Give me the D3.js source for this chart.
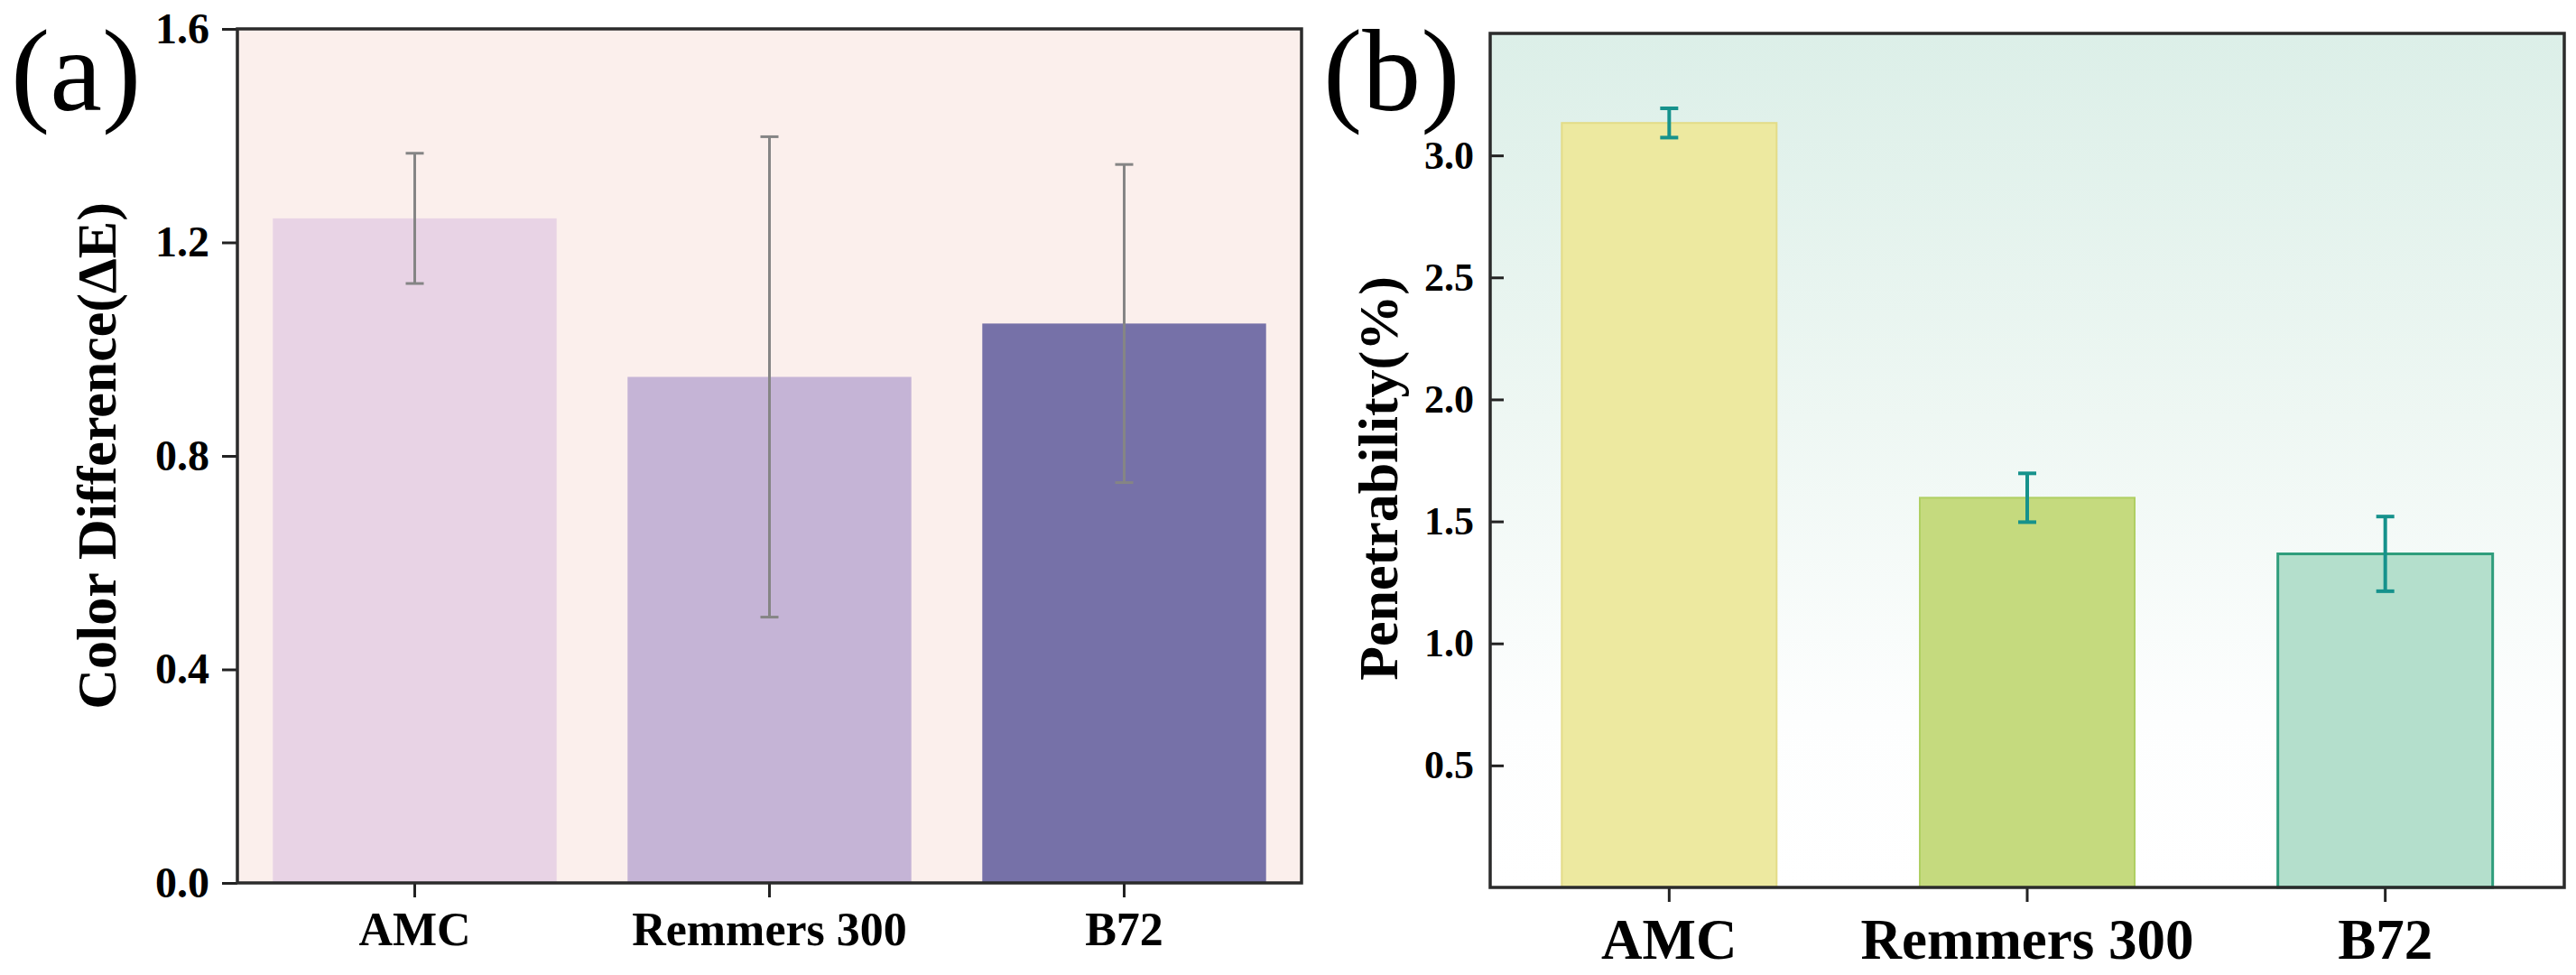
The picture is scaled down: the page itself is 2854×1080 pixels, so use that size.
<!DOCTYPE html>
<html lang="en">
<head>
    <meta charset="utf-8">
    <title>Color difference and penetrability</title>
    <script src="https://d3js.org/d3.v7.min.js"></script>
    <style>
        body { margin: 0; background: #fff; }
        text { font-family: "Liberation Serif", "Times New Roman", serif; }
    </style>
</head>
<body>
<svg id="chart"></svg>

<script>

    // data
    const materials = ["AMC", "Remmers 300", "B72"];

    const colorDiff = [1.245, 0.948, 1.048];
    const colorDiffErr = [0.122, 0.450, 0.298];
    const colorTicks = [0, 0.4, 0.8, 1.2, 1.6];

    const penetrability = [3.133, 1.597, 1.367];
    const penetrabilityErr = [0.060, 0.100, 0.153];
    const penTicks = [0.5, 1.0, 1.5, 2.0, 2.5, 3.0];

    let width = 2854,
        height = 1080;

    let svg = d3.select("#chart")
        .attr("width", width)
        .attr("height", height);

    let defs = svg.append("defs");
    let grad = defs.append("linearGradient")
        .attr("id", "bgB")
        .attr("x1", 0).attr("y1", 0)
        .attr("x2", 0).attr("y2", 1);
    grad.append("stop").attr("offset", "0%").attr("stop-color", "#dcefe8");
    grad.append("stop").attr("offset", "45%").attr("stop-color", "#eef7f3");
    grad.append("stop").attr("offset", "80%").attr("stop-color", "#fdfefe");
    grad.append("stop").attr("offset", "100%").attr("stop-color", "#ffffff");

    // ---------- panel (a) ----------
    let pa = {left: 263, right: 1442, top: 32, bottom: 978};

    let xA = d3.scaleBand()
        .domain(materials)
        .range([pa.left, pa.right])
        .paddingInner(0.2)
        .paddingOuter(0.1);

    let yA = d3.scaleLinear()
        .domain([0, 1.6])
        .range([pa.bottom, pa.top]);

    let gA = svg.append("g").attr("id", "panelA");

    gA.append("rect")
        .attr("x", pa.left).attr("y", pa.top)
        .attr("width", pa.right - pa.left)
        .attr("height", pa.bottom - pa.top)
        .attr("fill", "#fbefec");

    const fillA = ["#e8d3e5", "#c5b4d6", "#7671a8"];

    gA.selectAll(".bar")
        .data(materials)
        .enter().append("rect")
        .attr("class", "bar")
        .attr("x", d => xA(d))
        .attr("width", xA.bandwidth())
        .attr("y", (d, i) => yA(colorDiff[i]))
        .attr("height", (d, i) => yA(0) - yA(colorDiff[i]))
        .attr("fill", (d, i) => fillA[i]);

    drawErrors(gA, xA, yA, colorDiff, colorDiffErr, "#858585", 3, 10);

    gA.append("g")
        .attr("transform", `translate(${pa.left},0)`)
        .call(d3.axisLeft(yA).tickValues(colorTicks).tickFormat(d3.format(".1f"))
            .tickSize(17).tickPadding(14))
        .call(styleAxis, 48);

    gA.append("g")
        .attr("transform", `translate(0,${pa.bottom})`)
        .call(d3.axisBottom(xA).tickSize(16).tickPadding(16))
        .call(styleAxis, 52);

    frame(gA, pa);

    gA.append("text")
        .attr("transform", `translate(128,${(pa.top + pa.bottom) / 2}) rotate(-90)`)
        .attr("text-anchor", "middle")
        .attr("font-weight", "bold")
        .attr("font-size", 62)
        .text("Color Difference(ΔE)");

    svg.append("text")
        .attr("x", 12).attr("y", 122)
        .attr("font-size", 130)
        .text("(a)");

    // ---------- panel (b) ----------
    let pb = {left: 1651, right: 2841, top: 37, bottom: 983};

    let xB = d3.scaleBand()
        .domain(materials)
        .range([pb.left, pb.right])
        .paddingInner(0.4)
        .paddingOuter(0.2);

    let yB = d3.scaleLinear()
        .domain([0, 3.5])
        .range([pb.bottom, pb.top]);

    let gB = svg.append("g").attr("id", "panelB");

    gB.append("rect")
        .attr("x", pb.left).attr("y", pb.top)
        .attr("width", pb.right - pb.left)
        .attr("height", pb.bottom - pb.top)
        .attr("fill", "url(#bgB)");

    const fillB = ["#ede9a0", "#c5da7e", "#b4dfcc"];
    const strokeB = ["#e3dc88", "#afcf62", "#2f9d7c"];

    gB.selectAll(".bar")
        .data(materials)
        .enter().append("rect")
        .attr("class", "bar")
        .attr("x", d => xB(d))
        .attr("width", xB.bandwidth())
        .attr("y", (d, i) => yB(penetrability[i]))
        .attr("height", (d, i) => yB(0) - yB(penetrability[i]))
        .attr("fill", (d, i) => fillB[i])
        .attr("stroke", (d, i) => strokeB[i])
        .attr("stroke-width", (d, i) => i == 2 ? 3 : 2);

    drawErrors(gB, xB, yB, penetrability, penetrabilityErr, "#16928c", 4, 10);

    gB.append("g")
        .attr("transform", `translate(${pb.left},0)`)
        .call(d3.axisLeft(yB).tickValues(penTicks).tickFormat(d3.format(".1f"))
            .tickSizeInner(-15).tickSizeOuter(0).tickPadding(18))
        .call(styleAxis, 44);

    gB.append("g")
        .attr("transform", `translate(0,${pb.bottom})`)
        .call(d3.axisBottom(xB).tickSize(16).tickPadding(18))
        .call(styleAxis, 63);

    frame(gB, pb);

    gB.append("text")
        .attr("transform", `translate(1548,${(pb.top + pb.bottom) / 2 + 20}) rotate(-90)`)
        .attr("text-anchor", "middle")
        .attr("font-weight", "bold")
        .attr("font-size", 62)
        .text("Penetrability(%)");

    svg.append("text")
        .attr("x", 1466).attr("y", 122)
        .attr("font-size", 130)
        .text("(b)");

    function drawErrors(g, x, y, vals, errs, color, sw, half) {
        let eg = g.append("g").attr("stroke", color).attr("stroke-width", sw);
        materials.forEach((m, i) => {
            let cx = x(m) + x.bandwidth() / 2;
            let hi = y(vals[i] + errs[i]), lo = y(vals[i] - errs[i]);
            eg.append("line").attr("x1", cx).attr("x2", cx).attr("y1", hi).attr("y2", lo);
            eg.append("line").attr("x1", cx - half).attr("x2", cx + half).attr("y1", hi).attr("y2", hi);
            eg.append("line").attr("x1", cx - half).attr("x2", cx + half).attr("y1", lo).attr("y2", lo);
        });
    }

    function styleAxis(sel, fs) {
        sel.select(".domain").remove();
        sel.selectAll(".tick line").attr("stroke", "#222").attr("stroke-width", 3);
        sel.selectAll(".tick text")
            .attr("fill", "#000")
            .attr("font-family", "'Liberation Serif', 'Times New Roman', serif")
            .attr("font-weight", "bold")
            .attr("font-size", fs);
    }

    function frame(g, p) {
        g.append("rect")
            .attr("x", p.left).attr("y", p.top)
            .attr("width", p.right - p.left)
            .attr("height", p.bottom - p.top)
            .attr("fill", "none")
            .attr("stroke", "#2b2b2b")
            .attr("stroke-width", 3.5);
    }

</script>
</body>
</html>
